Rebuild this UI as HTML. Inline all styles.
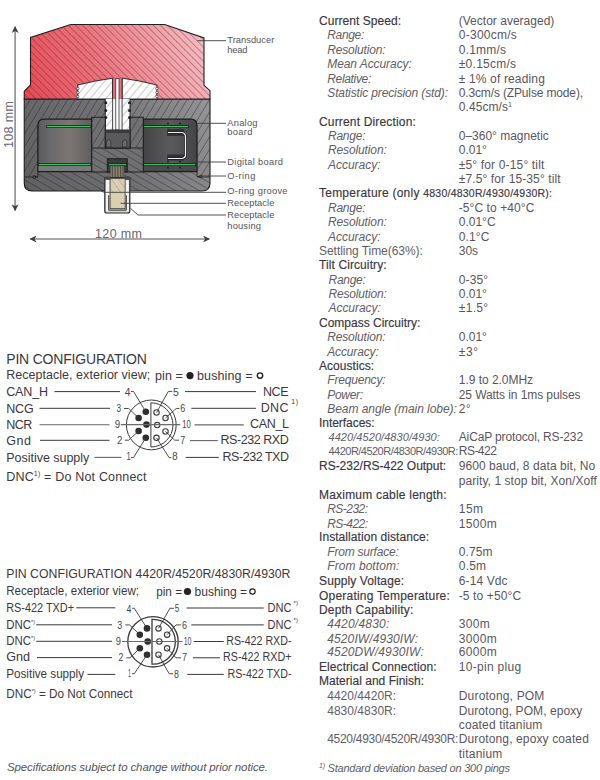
<!DOCTYPE html>
<html><head><meta charset="utf-8"><title>Specifications</title>
<style>
html,body{margin:0;padding:0;background:#fff;}
body{width:600px;height:780px;overflow:hidden;}
svg{display:block;font-family:"Liberation Sans", sans-serif;}
.hd{stroke:#3b3640;stroke-width:0.16px;paint-order:stroke;}
</style></head>
<body>
<svg width="600" height="780" viewBox="0 0 600 780">
<rect width="600" height="780" fill="#fff"/>
<defs>
<linearGradient id="gRed" x1="24" y1="99" x2="210" y2="24" gradientUnits="userSpaceOnUse">
 <stop offset="0" stop-color="#e54854"/>
 <stop offset="0.4" stop-color="#ec727c"/>
 <stop offset="1" stop-color="#f6c4ca"/>
</linearGradient>
<pattern id="hRed" width="5" height="5" patternUnits="userSpaceOnUse" patternTransform="rotate(-45)">
 <rect x="0" y="0" width="0.55" height="5" fill="#4a1a22" fill-opacity="0.62"/>
</pattern>
<pattern id="hBody" width="6.4" height="6.4" patternUnits="userSpaceOnUse" patternTransform="rotate(31)">
 <rect x="0" y="0" width="0.5" height="6.4" fill="#1a1a1c" fill-opacity="0.7"/>
</pattern>
<pattern id="hLid" width="6" height="6" patternUnits="userSpaceOnUse" patternTransform="rotate(-60)">
 <rect x="0" y="0" width="0.5" height="6" fill="#1a1a1c" fill-opacity="0.7"/>
</pattern>
<pattern id="hWhite" width="6" height="6" patternUnits="userSpaceOnUse" patternTransform="rotate(40)">
 <rect x="0" y="0" width="0.6" height="6" fill="#777" fill-opacity="0.6"/>
</pattern>
<pattern id="hBeige" width="6" height="6" patternUnits="userSpaceOnUse" patternTransform="rotate(-35)">
 <rect x="0" y="0" width="0.6" height="6" fill="#8a8270" fill-opacity="0.6"/>
</pattern>
<linearGradient id="gCav" x1="0" y1="0" x2="1" y2="0">
 <stop offset="0" stop-color="#5a5a5c"/>
 <stop offset="0.25" stop-color="#6a6a6c"/>
 <stop offset="0.6" stop-color="#7c7672"/>
 <stop offset="0.8" stop-color="#6e6a68"/>
 <stop offset="1" stop-color="#5e5e60"/>
</linearGradient>
<linearGradient id="gCavR" x1="0" y1="0" x2="1" y2="0">
 <stop offset="0" stop-color="#444446"/>
 <stop offset="0.5" stop-color="#5a5a5c"/>
 <stop offset="1" stop-color="#444446"/>
</linearGradient>
<linearGradient id="gBody" x1="24" y1="191" x2="210" y2="99" gradientUnits="userSpaceOnUse">
 <stop offset="0" stop-color="#606062"/>
 <stop offset="0.5" stop-color="#717173"/>
 <stop offset="1" stop-color="#959597"/>
</linearGradient>
<marker id="arr" viewBox="0 0 10 10" refX="9" refY="5" markerWidth="7" markerHeight="7" orient="auto-start-reverse" markerUnits="userSpaceOnUse">
 <path d="M0,0 L10,5 L0,10 L3,5 Z" fill="#3e3e3e"/>
</marker>
</defs>
<path d="M24.25,99 L210,99 L210,183 Q210,191 202,191 L32,191 Q24.25,191 24.25,183 Z" fill="url(#gBody)"/>
<path d="M24.25,99 L210,99 L210,183 Q210,191 202,191 L32,191 Q24.25,191 24.25,183 Z" fill="url(#hBody)"/>
<path d="M24.25,177 L37.9,177 L37.9,172 L197,172 L197,177 L210,177 L210,183 Q210,191 202,191 L32,191 Q24.25,191 24.25,183 Z" fill="url(#gBody)"/>
<path d="M24.25,177 L37.9,177 L37.9,172 L197,172 L197,177 L210,177 L210,183 Q210,191 202,191 L32,191 Q24.25,191 24.25,183 Z" fill="url(#hLid)"/>
<path d="M24.25,177 L37.9,177 M197,177 L210,177" stroke="#1e1e20" stroke-width="0.8"/>
<path d="M24.25,99 L210,99 L210,183 Q210,191 202,191 L32,191 Q24.25,191 24.25,183 Z" fill="none" stroke="#1e1e20" stroke-width="1.1"/>
<path d="M70.75,24.5 L164.7,24.5 L204,38 L204,85.3 L210,90.7 L210,99 L24.25,99 L24.25,91.25 L30.5,85 L30.5,37.5 Z" fill="url(#gRed)"/>
<path d="M70.75,24.5 L164.7,24.5 L204,38 L204,85.3 L210,90.7 L210,99 L24.25,99 L24.25,91.25 L30.5,85 L30.5,37.5 Z" fill="url(#hRed)"/>
<path d="M70.75,24.5 L164.7,24.5 L204,38 L204,85.3 L210,90.7 L210,99 L24.25,99 L24.25,91.25 L30.5,85 L30.5,37.5 Z" fill="none" stroke="#1e1e20" stroke-width="1.1"/>
<path d="M77.8,99 L77.8,85 Q95,80.5 112.6,78.2 L112.6,99 Z" fill="#fbfbfb"/>
<path d="M77.8,99 L77.8,85 Q95,80.5 112.6,78.2 L112.6,99 Z" fill="url(#hWhite)"/>
<path d="M77.8,99 L77.8,85 Q95,80.5 112.6,78.2 L112.6,99 Z" fill="none" stroke="#1e1e20" stroke-width="0.9"/>
<path d="M122.1,99 L122.1,78.2 Q140,80.5 156.9,85 L156.9,99 Z" fill="#fbfbfb"/>
<path d="M122.1,99 L122.1,78.2 Q140,80.5 156.9,85 L156.9,99 Z" fill="url(#hWhite)"/>
<path d="M122.1,99 L122.1,78.2 Q140,80.5 156.9,85 L156.9,99 Z" fill="none" stroke="#1e1e20" stroke-width="0.9"/>
<circle cx="77.8" cy="88.5" r="1.2" fill="#fff" stroke="#1e1e20" stroke-width="0.6"/>
<circle cx="156.9" cy="88.5" r="1.2" fill="#fff" stroke="#1e1e20" stroke-width="0.6"/>
<circle cx="77.8" cy="92.5" r="1.2" fill="#fff" stroke="#1e1e20" stroke-width="0.6"/>
<circle cx="156.9" cy="92.5" r="1.2" fill="#fff" stroke="#1e1e20" stroke-width="0.6"/>
<circle cx="77.8" cy="96.5" r="1.2" fill="#fff" stroke="#1e1e20" stroke-width="0.6"/>
<circle cx="156.9" cy="96.5" r="1.2" fill="#fff" stroke="#1e1e20" stroke-width="0.6"/>
<rect x="105.3" y="99" width="24.7" height="31" fill="#fbfbfb"/>
<rect x="105.3" y="99" width="24.7" height="31" fill="url(#hWhite)"/>
<path d="M105.3,99 L105.3,130 M130,99 L130,130" stroke="#1e1e20" stroke-width="0.9"/>
<circle cx="105.8" cy="102.7" r="1.5" fill="#222"/>
<circle cx="129.5" cy="102.7" r="1.5" fill="#222"/>
<circle cx="105.8" cy="110.5" r="1.5" fill="#222"/>
<circle cx="129.5" cy="110.5" r="1.5" fill="#222"/>
<circle cx="105.8" cy="117.5" r="1.5" fill="#222"/>
<circle cx="129.5" cy="117.5" r="1.5" fill="#222"/>
<rect x="112.6" y="78.2" width="9.5" height="20.8" fill="#e9707a"/>
<rect x="112.6" y="99" width="9.5" height="31" fill="#f4f4f4"/>
<path d="M112.6,78.2 L112.6,130 M122.1,78.2 L122.1,130" stroke="#1e1e20" stroke-width="0.8"/>
<rect x="115.8" y="78.5" width="3.2" height="51.5" fill="#fff" stroke="#1e1e20" stroke-width="0.7"/>
<path d="M37.9,171.5 L37.9,125.5 Q37.9,119.2 44.2,119.2 L91.7,119.2 L91.7,171.5 Z" fill="url(#gCav)" stroke="#1e1e20" stroke-width="1.3"/>
<path d="M143.3,119.2 L190.7,119.2 Q197,119.2 197,125.5 L197,171.5 L143.3,171.5 Z" fill="url(#gCavR)" stroke="#1e1e20" stroke-width="1.3"/>
<rect x="38.6" y="166.2" width="52.4" height="4.7" fill="#7a7a7c"/>
<rect x="144" y="166.2" width="52.3" height="4.7" fill="#4a4a4c"/>
<path d="M91.7,117.3 L105.3,117.3 L105.3,148 L130,148 L130,117.3 L143.3,117.3 L143.3,172 L91.7,172 Z" fill="#707072"/>
<path d="M91.7,117.3 L105.3,117.3 L105.3,148 L130,148 L130,117.3 L143.3,117.3 L143.3,172 L91.7,172 Z" fill="url(#hBody)"/>
<rect x="91.7" y="148" width="51.6" height="24" fill="#707072"/>
<rect x="91.7" y="148" width="51.6" height="24" fill="url(#hLid)"/>
<path d="M91.7,148 L143.3,148" stroke="#1e1e20" stroke-width="0.9"/>
<path d="M91.7,117.3 L105.3,117.3 L105.3,148 L130,148 L130,117.3 L143.3,117.3 L143.3,172 L91.7,172 Z" fill="none" stroke="#1e1e20" stroke-width="1.1"/>
<rect x="105.3" y="130" width="24.7" height="18" fill="#5a5a5c" stroke="#1e1e20" stroke-width="0.9"/>
<rect x="105.3" y="130" width="24.7" height="3" fill="#3a3a3c"/>
<path d="M106.5,147 L106.5,142 Q108.7,137 110.9,142 L110.9,147 Z" fill="#6a6a6c" stroke="#222" stroke-width="0.6"/>
<path d="M122.5,147 L122.5,142 Q124.7,137 126.9,142 L126.9,147 Z" fill="#6a6a6c" stroke="#222" stroke-width="0.6"/>
<rect x="107.3" y="158.7" width="20" height="13.3" fill="#3a3a3c" stroke="#1e1e20" stroke-width="0.9"/>
<rect x="110.5" y="166" width="13.5" height="12" fill="#8a8270"/>
<line x1="112.3" y1="166" x2="112.3" y2="178" stroke="#3a3630" stroke-width="0.8"/>
<line x1="115.1" y1="166" x2="115.1" y2="178" stroke="#3a3630" stroke-width="0.8"/>
<line x1="117.9" y1="166" x2="117.9" y2="178" stroke="#3a3630" stroke-width="0.8"/>
<line x1="120.7" y1="166" x2="120.7" y2="178" stroke="#3a3630" stroke-width="0.8"/>
<line x1="123.0" y1="166" x2="123.0" y2="178" stroke="#3a3630" stroke-width="0.8"/>
<line x1="46.3" y1="126.6" x2="91.3" y2="126.6" stroke="#10261a" stroke-width="2.8"/>
<line x1="47.099999999999994" y1="126.6" x2="90.5" y2="126.6" stroke="#3fbf62" stroke-width="1.2"/>
<line x1="143.3" y1="126.6" x2="189" y2="126.6" stroke="#10261a" stroke-width="2.8"/>
<line x1="144.10000000000002" y1="126.6" x2="188.2" y2="126.6" stroke="#3fbf62" stroke-width="1.2"/>
<line x1="38.2" y1="164.7" x2="91.3" y2="164.7" stroke="#10261a" stroke-width="2.8"/>
<line x1="39.0" y1="164.7" x2="90.5" y2="164.7" stroke="#3fbf62" stroke-width="1.2"/>
<line x1="143.3" y1="164.7" x2="196" y2="164.7" stroke="#10261a" stroke-width="2.8"/>
<line x1="144.10000000000002" y1="164.7" x2="195.2" y2="164.7" stroke="#3fbf62" stroke-width="1.2"/>
<line x1="108" y1="164.7" x2="127" y2="164.7" stroke="#10261a" stroke-width="2.8"/>
<line x1="108.8" y1="164.7" x2="126.2" y2="164.7" stroke="#3fbf62" stroke-width="1.2"/>
<circle cx="168" cy="123.5" r="0.9" fill="#1a1a1a"/>
<circle cx="168" cy="129.5" r="0.9" fill="#1a1a1a"/>
<circle cx="168" cy="161.5" r="0.9" fill="#1a1a1a"/>
<circle cx="168" cy="167.5" r="0.9" fill="#1a1a1a"/>
<circle cx="180" cy="123.5" r="0.9" fill="#1a1a1a"/>
<circle cx="180" cy="129.5" r="0.9" fill="#1a1a1a"/>
<circle cx="180" cy="161.5" r="0.9" fill="#1a1a1a"/>
<circle cx="180" cy="167.5" r="0.9" fill="#1a1a1a"/>
<rect x="167" y="129" width="17" height="7" fill="#333"/>
<rect x="167" y="154.5" width="17" height="6" fill="#333"/>
<path d="M168,132.5 L181,132.5 Q185.5,132.5 185.5,137 L185.5,154.5 Q185.5,158.5 181,158.5 L168,158.5" fill="none" stroke="#222" stroke-width="2.6"/>
<path d="M168,132.5 L181,132.5 Q185.5,132.5 185.5,137 L185.5,154.5 Q185.5,158.5 181,158.5 L168,158.5" fill="none" stroke="#f0f0f0" stroke-width="1.2"/>
<path d="M37.9,171.5 L37.9,177 L33,177" fill="none" stroke="#1e1e20" stroke-width="0.8"/>
<circle cx="34.2" cy="177" r="1.4" fill="#555" stroke="#111" stroke-width="0.6"/>
<path d="M197,171.5 L197,176.5 L202,176.5" fill="none" stroke="#1e1e20" stroke-width="0.8"/>
<circle cx="200.8" cy="176.5" r="1.4" fill="#555" stroke="#111" stroke-width="0.6"/>
<path d="M104.8,177.7 L129.8,177.7 L129.8,211 Q129.8,213 127.8,213 L106.8,213 Q104.8,213 104.8,211 Z" fill="#d2d2d4" stroke="#2a2a2a" stroke-width="1.2"/>
<rect x="106" y="180" width="3" height="31.5" fill="#f2f2f2"/>
<rect x="126" y="180" width="2.8" height="31.5" fill="#f2f2f2"/>
<rect x="108.6" y="195.3" width="17.8" height="15" fill="#b4b4b6"/>
<path d="M108.6,195.3 L108.6,210.2 L126.4,210.2 L126.4,195.3" fill="none" stroke="#3a3a3a" stroke-width="0.9"/>
<rect x="105.2" y="176.3" width="5" height="3.6" fill="#4a4a4c"/>
<rect x="124.6" y="176.3" width="5" height="3.6" fill="#4a4a4c"/>
<rect x="110.1" y="178.7" width="15" height="30" fill="#d9d0b2" stroke="#2e2e2e" stroke-width="0.7"/>
<rect x="110.5" y="179" width="14.2" height="14.5" fill="url(#hBeige)"/>
<line x1="15.1" y1="26.7" x2="15.1" y2="210.5" stroke="#8c8c8c" stroke-width="1.6" marker-start="url(#arr)" marker-end="url(#arr)"/>
<line x1="30.3" y1="239" x2="209.3" y2="239" stroke="#8c8c8c" stroke-width="1.6" marker-start="url(#arr)" marker-end="url(#arr)"/>
<text x="0" y="0" font-size="12.5" fill="#6a6570" transform="translate(13,148) rotate(-90)" textLength="47" lengthAdjust="spacing">108 mm</text>
<text x="95" y="237.6" font-size="12.5" fill="#6a6570" textLength="47" lengthAdjust="spacing">120 mm</text>
<text x="227.3" y="42.7" font-size="9.3" fill="#565260" textLength="47.00" lengthAdjust="spacing">Transducer</text>
<text x="227.3" y="52.7" font-size="9.3" fill="#565260" textLength="20.20" lengthAdjust="spacing">head</text>
<text x="227.3" y="126" font-size="9.3" fill="#565260" textLength="30.20" lengthAdjust="spacing">Analog</text>
<text x="227.3" y="135.3" font-size="9.3" fill="#565260" textLength="25.20" lengthAdjust="spacing">board</text>
<text x="227.3" y="164.7" font-size="9.3" fill="#565260" textLength="55.70" lengthAdjust="spacing">Digital board</text>
<text x="227.3" y="178.7" font-size="9.3" fill="#565260" textLength="28.00" lengthAdjust="spacing">O-ring</text>
<text x="227.3" y="194.3" font-size="9.3" fill="#565260" textLength="60.20" lengthAdjust="spacing">O-ring groove</text>
<text x="227.3" y="205.7" font-size="9.3" fill="#565260" textLength="47.00" lengthAdjust="spacing">Receptacle</text>
<text x="227.3" y="218.3" font-size="9.3" fill="#565260" textLength="47.00" lengthAdjust="spacing">Receptacle</text>
<text x="227.3" y="229" font-size="9.3" fill="#565260" textLength="33.70" lengthAdjust="spacing">housing</text>
<polyline points="197.3,40.7 226,40.7" fill="none" stroke="#3e3e3e" stroke-width="0.9"/>
<polyline points="197,123.3 226,123.3" fill="none" stroke="#3e3e3e" stroke-width="0.9"/>
<polyline points="192,162 226,162" fill="none" stroke="#3e3e3e" stroke-width="0.9"/>
<polyline points="200,176 226,176" fill="none" stroke="#3e3e3e" stroke-width="0.9"/>
<polyline points="100.4,190.5 104,192.3 226,192.3" fill="none" stroke="#3e3e3e" stroke-width="0.9"/>
<polyline points="120.6,203.3 226,203.3" fill="none" stroke="#3e3e3e" stroke-width="0.9"/>
<polyline points="130.4,208.2 137.9,215 226,215" fill="none" stroke="#3e3e3e" stroke-width="0.9"/>
<text x="6.25" y="364.25" font-size="14" fill="#3c3740" textLength="140.55" lengthAdjust="spacing">PIN CONFIGURATION</text>
<text x="6.25" y="378.75" font-size="12.5" fill="#3c3740" textLength="143.95" lengthAdjust="spacing">Receptacle, exterior view;</text>
<text x="155" y="380" font-size="12.5" fill="#3c3740" textLength="27.80" lengthAdjust="spacing">pin =</text>
<circle cx="190" cy="375.6" r="3.6" fill="#222"/>
<text x="197" y="380" font-size="12.5" fill="#3c3740" textLength="55.50" lengthAdjust="spacing">bushing =</text>
<circle cx="260" cy="375.6" r="2.7" fill="none" stroke="#222" stroke-width="1.4"/>
<text x="6.25" y="396.25" font-size="12.5" fill="#3c3740" textLength="41.75" lengthAdjust="spacing">CAN_H</text>
<text x="6.25" y="412.5" font-size="12.5" fill="#3c3740" textLength="27.45" lengthAdjust="spacing">NCG</text>
<text x="6.25" y="428.75" font-size="12.5" fill="#3c3740" textLength="26.05" lengthAdjust="spacing">NCR</text>
<text x="6.25" y="444.5" font-size="12.5" fill="#3c3740" textLength="24.75" lengthAdjust="spacing">Gnd</text>
<text x="6.25" y="462" font-size="12.5" fill="#3c3740" textLength="83.00" lengthAdjust="spacing">Positive supply</text>
<text x="6.25" y="481.25" font-size="12.5" fill="#3c3740" textLength="140.25" lengthAdjust="spacing">DNC<tspan font-size="7" dy="-5">1)</tspan><tspan dy="5"> = Do Not Connect</tspan></text>
<line x1="54.5" y1="391.6" x2="120" y2="391.6" stroke="#3a3a3a" stroke-width="1.0"/>
<line x1="39.5" y1="408.3" x2="110" y2="408.3" stroke="#3a3a3a" stroke-width="1.0"/>
<line x1="39.5" y1="424.8" x2="109.5" y2="424.8" stroke="#666" stroke-width="1.1"/>
<line x1="40" y1="440.3" x2="109.5" y2="440.3" stroke="#3a3a3a" stroke-width="1.0"/>
<line x1="94.5" y1="457.4" x2="121.6" y2="457.4" stroke="#666" stroke-width="1.1"/>
<text x="263" y="395.5" font-size="12.5" fill="#3c3740" textLength="25.50" lengthAdjust="spacing">NCE</text>
<text x="220.5" y="443.75" font-size="12.5" fill="#3c3740" textLength="68.25" lengthAdjust="spacing">RS-232 RXD</text>
<text x="222.5" y="460.75" font-size="12.5" fill="#3c3740" textLength="66.50" lengthAdjust="spacing">RS-232 TXD</text>
<text x="250" y="428" font-size="12.5" fill="#3c3740" textLength="39.00" lengthAdjust="spacing">CAN_L</text>
<text x="260.75" y="412" font-size="12.5" fill="#3c3740" textLength="27.75" lengthAdjust="spacing">DNC</text>
<text x="291.25" y="404" font-size="7" fill="#3c3740" textLength="6.75" lengthAdjust="spacing">1)</text>
<line x1="185" y1="391.6" x2="256" y2="391.6" stroke="#3a3a3a" stroke-width="1.0"/>
<line x1="191.3" y1="408.3" x2="256" y2="408.3" stroke="#3a3a3a" stroke-width="1.0"/>
<line x1="194.5" y1="424.8" x2="243.75" y2="424.8" stroke="#6a6a6a" stroke-width="1.2"/>
<line x1="190" y1="440.6" x2="217.8" y2="440.6" stroke="#666" stroke-width="1.1"/>
<line x1="185.7" y1="457.4" x2="218.75" y2="457.4" stroke="#3a3a3a" stroke-width="1.0"/>
<circle cx="151.3" cy="424.9" r="24.9" fill="none" stroke="#3a3a3a" stroke-width="1.0"/>
<path d="M150.9,402.80 A22.099999999999998,22.099999999999998 0 1 1 150.9,447.00 Z" fill="none" stroke="#3a3a3a" stroke-width="1.0"/>
<circle cx="145.8" cy="411.7" r="3.3" fill="#2e2e30"/>
<circle cx="138.6" cy="418" r="3.3" fill="#2e2e30"/>
<circle cx="146.5" cy="424.6" r="3.3" fill="#2e2e30"/>
<circle cx="138.6" cy="431" r="3.3" fill="#2e2e30"/>
<circle cx="145.8" cy="437.8" r="3.3" fill="#2e2e30"/>
<circle cx="156.5" cy="412.5" r="2.7" fill="#fff" stroke="#3a3a3a" stroke-width="1.1"/>
<circle cx="165.5" cy="418" r="2.7" fill="#fff" stroke="#3a3a3a" stroke-width="1.1"/>
<circle cx="157.2" cy="425.1" r="2.7" fill="#fff" stroke="#3a3a3a" stroke-width="1.1"/>
<circle cx="165.5" cy="431.5" r="2.7" fill="#fff" stroke="#3a3a3a" stroke-width="1.1"/>
<circle cx="156.5" cy="437.8" r="2.7" fill="#fff" stroke="#3a3a3a" stroke-width="1.1"/>
<text x="124.8" y="395.8" font-size="10" fill="#4a4550" textLength="5.70" lengthAdjust="spacingAndGlyphs">4</text>
<text x="116.4" y="411.7" font-size="10" fill="#4a4550" textLength="4.60" lengthAdjust="spacingAndGlyphs">3</text>
<text x="114.8" y="427.5" font-size="10" fill="#4a4550" textLength="5.40" lengthAdjust="spacingAndGlyphs">9</text>
<text x="116.9" y="443.6" font-size="10" fill="#4a4550" textLength="5.40" lengthAdjust="spacingAndGlyphs">2</text>
<text x="126.4" y="460.4" font-size="10" fill="#4a4550" textLength="4.10" lengthAdjust="spacingAndGlyphs">1</text>
<text x="173" y="395.8" font-size="10" fill="#4a4550" textLength="5.80" lengthAdjust="spacingAndGlyphs">5</text>
<text x="180.2" y="411.7" font-size="10" fill="#4a4550" textLength="5.00" lengthAdjust="spacingAndGlyphs">6</text>
<text x="182.3" y="427.5" font-size="10" fill="#4a4550" textLength="8.40" lengthAdjust="spacingAndGlyphs">10</text>
<text x="180.2" y="443.7" font-size="10" fill="#4a4550" textLength="5.00" lengthAdjust="spacingAndGlyphs">7</text>
<text x="172.3" y="460" font-size="10" fill="#4a4550" textLength="5.40" lengthAdjust="spacingAndGlyphs">8</text>
<polyline points="130.8,391.4 133.5,391.4 145.8,411.7" fill="none" stroke="#3a3a3a" stroke-width="0.9" stroke-linejoin="round"/>
<polyline points="124,408.5 128.7,408.5 138.6,418" fill="none" stroke="#3a3a3a" stroke-width="0.9" stroke-linejoin="round"/>
<polyline points="120.8,424.6 180.2,424.6" fill="none" stroke="#6a6a6a" stroke-width="1.15" stroke-linejoin="round"/>
<polyline points="124.8,440.2 128.7,440.2 138.6,431" fill="none" stroke="#3a3a3a" stroke-width="0.9" stroke-linejoin="round"/>
<polyline points="131.1,457.6 133.5,457.6 145.8,437.8" fill="none" stroke="#3a3a3a" stroke-width="0.9" stroke-linejoin="round"/>
<polyline points="156.5,412.5 168.3,391.4 172.3,391.4" fill="none" stroke="#3a3a3a" stroke-width="0.9" stroke-linejoin="round"/>
<polyline points="165.5,418 176.2,408.5 179.4,408.5" fill="none" stroke="#3a3a3a" stroke-width="0.9" stroke-linejoin="round"/>
<polyline points="165.5,431.5 174.7,440.2 179,440.2" fill="none" stroke="#3a3a3a" stroke-width="0.9" stroke-linejoin="round"/>
<polyline points="156.5,437.8 169.1,457.6 171.5,457.6" fill="none" stroke="#3a3a3a" stroke-width="0.9" stroke-linejoin="round"/>
<text x="6.25" y="578" font-size="13" fill="#3c3740" textLength="284.25" lengthAdjust="spacingAndGlyphs">PIN CONFIGURATION 4420R/4520R/4830R/4930R</text>
<text x="6.25" y="594.5" font-size="12.5" fill="#3c3740" textLength="132.75" lengthAdjust="spacingAndGlyphs">Receptacle, exterior view;</text>
<text x="156.25" y="595.5" font-size="12.5" fill="#3c3740" textLength="25.75" lengthAdjust="spacingAndGlyphs">pin =</text>
<circle cx="187.5" cy="591.5" r="3.6" fill="#222"/>
<text x="194.5" y="595.5" font-size="12.5" fill="#3c3740" textLength="52.50" lengthAdjust="spacingAndGlyphs">bushing =</text>
<circle cx="252.5" cy="591.5" r="2.7" fill="none" stroke="#222" stroke-width="1.2"/>
<text x="6.25" y="612.0" font-size="12.5" fill="#3c3740" textLength="67.75" lengthAdjust="spacingAndGlyphs">RS-422 TXD+</text>
<text x="6.25" y="628.8" font-size="12.5" fill="#3c3740" textLength="28.75" lengthAdjust="spacingAndGlyphs">DNC<tspan font-size="6" dy="-5">*)</tspan></text>
<text x="6.25" y="644.6" font-size="12.5" fill="#3c3740" textLength="28.75" lengthAdjust="spacingAndGlyphs">DNC<tspan font-size="6" dy="-5">*)</tspan></text>
<text x="6.25" y="660.7" font-size="12.5" fill="#3c3740" textLength="23.75" lengthAdjust="spacingAndGlyphs">Gnd</text>
<text x="6.25" y="678.0" font-size="12.5" fill="#3c3740" textLength="77.75" lengthAdjust="spacingAndGlyphs">Positive supply</text>
<text x="6.25" y="697.5" font-size="12.5" fill="#3c3740" textLength="126.25" lengthAdjust="spacingAndGlyphs">DNC<tspan font-size="6" dy="-5">*)</tspan><tspan dy="5"> = Do Not Connect</tspan></text>
<line x1="76.25" y1="607.8" x2="115.3" y2="607.8" stroke="#3a3a3a" stroke-width="1.0"/>
<line x1="36.25" y1="624.8" x2="112.1" y2="624.8" stroke="#3a3a3a" stroke-width="1.0"/>
<line x1="36.25" y1="641.3" x2="112" y2="641.3" stroke="#3a3a3a" stroke-width="1.0"/>
<line x1="37" y1="657.6" x2="112" y2="657.6" stroke="#3a3a3a" stroke-width="1.0"/>
<line x1="87.5" y1="674.4" x2="115.3" y2="674.4" stroke="#3a3a3a" stroke-width="1.0"/>
<text x="267.5" y="612.1" font-size="12.5" fill="#3c3740" textLength="24.00" lengthAdjust="spacingAndGlyphs">DNC</text>
<text x="293.5" y="604.8" font-size="6" fill="#3c3740" textLength="4.50" lengthAdjust="spacingAndGlyphs">*)</text>
<text x="267.5" y="628.8" font-size="12.5" fill="#3c3740" textLength="24.00" lengthAdjust="spacingAndGlyphs">DNC</text>
<text x="293.5" y="621.8" font-size="6" fill="#3c3740" textLength="4.50" lengthAdjust="spacingAndGlyphs">*)</text>
<text x="226.25" y="644.6" font-size="12.5" fill="#3c3740" textLength="65.25" lengthAdjust="spacingAndGlyphs">RS-422 RXD-</text>
<text x="223" y="660.8" font-size="12.5" fill="#3c3740" textLength="68.50" lengthAdjust="spacingAndGlyphs">RS-422 RXD+</text>
<text x="227.5" y="677.5" font-size="12.5" fill="#3c3740" textLength="64.00" lengthAdjust="spacingAndGlyphs">RS-422 TXD-</text>
<line x1="186.5" y1="608" x2="263.75" y2="608" stroke="#3a3a3a" stroke-width="1.0"/>
<line x1="191.3" y1="624.9" x2="263.75" y2="624.9" stroke="#3a3a3a" stroke-width="1.0"/>
<line x1="193.7" y1="641.5" x2="223.75" y2="641.5" stroke="#3a3a3a" stroke-width="1.0"/>
<line x1="192.9" y1="657.8" x2="220" y2="657.8" stroke="#3a3a3a" stroke-width="1.0"/>
<line x1="187.3" y1="674.4" x2="223.75" y2="674.4" stroke="#3a3a3a" stroke-width="1.0"/>
<circle cx="153" cy="641.8" r="25.2" fill="none" stroke="#3a3a3a" stroke-width="1.3"/>
<path d="M152,619.42 A22.4,22.4 0 1 1 152,664.18 Z" fill="none" stroke="#3a3a3a" stroke-width="1.3"/>
<circle cx="147" cy="628.4" r="3.3" fill="#2e2e30"/>
<circle cx="139.8" cy="634.7" r="3.3" fill="#2e2e30"/>
<circle cx="147.7" cy="641.5" r="3.3" fill="#2e2e30"/>
<circle cx="139.8" cy="648.3" r="3.3" fill="#2e2e30"/>
<circle cx="147" cy="654.7" r="3.3" fill="#2e2e30"/>
<circle cx="158.5" cy="628.4" r="2.7" fill="#fff" stroke="#3a3a3a" stroke-width="1.1"/>
<circle cx="167.1" cy="634.7" r="2.7" fill="#fff" stroke="#3a3a3a" stroke-width="1.1"/>
<circle cx="159.3" cy="641.5" r="2.7" fill="#fff" stroke="#3a3a3a" stroke-width="1.1"/>
<circle cx="167.1" cy="648.3" r="2.7" fill="#fff" stroke="#3a3a3a" stroke-width="1.1"/>
<circle cx="158.5" cy="654.7" r="2.7" fill="#fff" stroke="#3a3a3a" stroke-width="1.1"/>
<text x="126.4" y="612.8" font-size="10" fill="#4a4550" textLength="4.90" lengthAdjust="spacingAndGlyphs">4</text>
<text x="117.3" y="629.2" font-size="10" fill="#4a4550" textLength="5.00" lengthAdjust="spacingAndGlyphs">3</text>
<text x="115.8" y="645.4" font-size="10" fill="#4a4550" textLength="5.20" lengthAdjust="spacingAndGlyphs">9</text>
<text x="118.5" y="661.2" font-size="10" fill="#4a4550" textLength="4.90" lengthAdjust="spacingAndGlyphs">2</text>
<text x="128" y="677.2" font-size="10" fill="#4a4550" textLength="3.00" lengthAdjust="spacingAndGlyphs">1</text>
<text x="174.7" y="611.8" font-size="10" fill="#4a4550" textLength="4.60" lengthAdjust="spacingAndGlyphs">5</text>
<text x="182.1" y="629.2" font-size="10" fill="#4a4550" textLength="5.00" lengthAdjust="spacingAndGlyphs">6</text>
<text x="183.7" y="645.4" font-size="10" fill="#4a4550" textLength="7.80" lengthAdjust="spacingAndGlyphs">10</text>
<text x="182.1" y="661.2" font-size="10" fill="#4a4550" textLength="5.00" lengthAdjust="spacingAndGlyphs">7</text>
<text x="173.9" y="678" font-size="10" fill="#4a4550" textLength="4.90" lengthAdjust="spacingAndGlyphs">8</text>
<polyline points="132.2,608.3 134.3,608.3 147,628.4" fill="none" stroke="#3a3a3a" stroke-width="0.9" stroke-linejoin="round"/>
<polyline points="125.3,624.9 129.5,624.9 139.8,634.7" fill="none" stroke="#3a3a3a" stroke-width="0.9" stroke-linejoin="round"/>
<polyline points="122.1,641.5 182.6,641.5" fill="none" stroke="#6a6a6a" stroke-width="1.15" stroke-linejoin="round"/>
<polyline points="126.4,657.8 130,657.8 139.8,648.3" fill="none" stroke="#3a3a3a" stroke-width="0.9" stroke-linejoin="round"/>
<polyline points="131.9,673.7 134.3,673.7 147,654.7" fill="none" stroke="#3a3a3a" stroke-width="0.9" stroke-linejoin="round"/>
<polyline points="158.5,628.4 169.9,608.3 173.9,608.3" fill="none" stroke="#3a3a3a" stroke-width="0.9" stroke-linejoin="round"/>
<polyline points="167.1,634.7 176,624.9 181,624.9" fill="none" stroke="#3a3a3a" stroke-width="0.9" stroke-linejoin="round"/>
<polyline points="167.1,648.3 176,657.8 181,657.8" fill="none" stroke="#3a3a3a" stroke-width="0.9" stroke-linejoin="round"/>
<polyline points="158.5,654.7 169.1,673.7 173.1,673.7" fill="none" stroke="#3a3a3a" stroke-width="0.9" stroke-linejoin="round"/>
<text x="7" y="770.5" font-size="11.5" fill="#58535c" font-style="italic" textLength="261" lengthAdjust="spacing">Specifications subject to change without prior notice.</text>
<text x="319" y="25" font-size="12" fill="#3b3640" class="hd" textLength="82.10" lengthAdjust="spacing">Current Speed:</text>
<text x="458.75" y="25" font-size="12" fill="#5a555e" textLength="95.60" lengthAdjust="spacing">(Vector averaged)</text>
<text x="327.25" y="39.25" font-size="12" fill="#625d66" font-style="italic" textLength="37.05" lengthAdjust="spacing">Range:</text>
<text x="458.75" y="39.25" font-size="12" fill="#5a555e" textLength="58.10" lengthAdjust="spacing">0-300cm/s</text>
<text x="327.25" y="53.75" font-size="12" fill="#625d66" font-style="italic" textLength="58.30" lengthAdjust="spacing">Resolution:</text>
<text x="458.75" y="53.75" font-size="12" fill="#5a555e" textLength="47.35" lengthAdjust="spacing">0.1mm/s</text>
<text x="327.25" y="68.25" font-size="12" fill="#625d66" font-style="italic" textLength="84.55" lengthAdjust="spacing">Mean Accuracy:</text>
<text x="458.75" y="68.25" font-size="12" fill="#5a555e" textLength="57.35" lengthAdjust="spacing">±0.15cm/s</text>
<text x="327.25" y="82.75" font-size="12" fill="#625d66" font-style="italic" textLength="44.05" lengthAdjust="spacing">Relative:</text>
<text x="458.75" y="82.75" font-size="12" fill="#5a555e" textLength="86.10" lengthAdjust="spacing">± 1% of reading</text>
<text x="327.25" y="97" font-size="12" fill="#625d66" font-style="italic" textLength="120.80" lengthAdjust="spacing">Statistic precision (std):</text>
<text x="458.75" y="97" font-size="12" fill="#5a555e" textLength="124.35" lengthAdjust="spacing">0.3cm/s (ZPulse mode),</text>
<text x="458.75" y="110.75" font-size="12" fill="#5a555e" textLength="53.10" lengthAdjust="spacing">0.45cm/s<tspan font-size="7" dy="-4">1</tspan></text>
<text x="319" y="125.75" font-size="12" fill="#3b3640" class="hd" textLength="96.85" lengthAdjust="spacing">Current Direction:</text>
<text x="328" y="139.5" font-size="12" fill="#625d66" font-style="italic" textLength="37.55" lengthAdjust="spacing">Range:</text>
<text x="458.75" y="139.5" font-size="12" fill="#5a555e" textLength="90.10" lengthAdjust="spacing">0–360° magnetic</text>
<text x="328" y="153.75" font-size="12" fill="#625d66" font-style="italic" textLength="58.80" lengthAdjust="spacing">Resolution:</text>
<text x="458.75" y="153.75" font-size="12" fill="#5a555e" textLength="28.10" lengthAdjust="spacing">0.01°</text>
<text x="328" y="168.75" font-size="12" fill="#625d66" font-style="italic" textLength="52.55" lengthAdjust="spacing">Accuracy:</text>
<text x="458.75" y="168.75" font-size="12" fill="#5a555e" textLength="85.60" lengthAdjust="spacing">±5° for 0-15° tilt</text>
<text x="458.75" y="182.5" font-size="12" fill="#5a555e" textLength="101.85" lengthAdjust="spacing">±7.5° for 15-35° tilt</text>
<text x="319" y="197" font-size="12" fill="#3b3640" class="hd" textLength="233.00" lengthAdjust="spacing">Temperature (only <tspan font-size="10.5">4830/4830R/4930/4930R):</tspan></text>
<text x="328" y="211.75" font-size="12" fill="#625d66" font-style="italic" textLength="37.55" lengthAdjust="spacing">Range:</text>
<text x="458.75" y="211.75" font-size="12" fill="#5a555e" textLength="75.60" lengthAdjust="spacing">-5°C to +40°C</text>
<text x="328" y="225.5" font-size="12" fill="#625d66" font-style="italic" textLength="58.80" lengthAdjust="spacing">Resolution:</text>
<text x="458.75" y="225.5" font-size="12" fill="#5a555e" textLength="36.85" lengthAdjust="spacing">0.01°C</text>
<text x="328" y="240.5" font-size="12" fill="#625d66" font-style="italic" textLength="52.55" lengthAdjust="spacing">Accuracy:</text>
<text x="458.75" y="240.5" font-size="12" fill="#5a555e" textLength="30.60" lengthAdjust="spacing">0.1°C</text>
<text x="319" y="254.5" font-size="12" fill="#625d66" textLength="103.85" lengthAdjust="spacing">Settling Time(63%):</text>
<text x="458.75" y="254.5" font-size="12" fill="#5a555e" textLength="19.35" lengthAdjust="spacing">30s</text>
<text x="319" y="268.5" font-size="12" fill="#3b3640" class="hd" textLength="67.60" lengthAdjust="spacing">Tilt Circuitry:</text>
<text x="328.5" y="283.75" font-size="12" fill="#625d66" font-style="italic" textLength="37.30" lengthAdjust="spacing">Range:</text>
<text x="458.75" y="283.75" font-size="12" fill="#5a555e" textLength="29.35" lengthAdjust="spacing">0-35°</text>
<text x="328.5" y="297.5" font-size="12" fill="#625d66" font-style="italic" textLength="58.30" lengthAdjust="spacing">Resolution:</text>
<text x="458.75" y="297.5" font-size="12" fill="#5a555e" textLength="28.10" lengthAdjust="spacing">0.01°</text>
<text x="328.5" y="312" font-size="12" fill="#625d66" font-style="italic" textLength="52.30" lengthAdjust="spacing">Accuracy:</text>
<text x="458.75" y="312" font-size="12" fill="#5a555e" textLength="29.35" lengthAdjust="spacing">±1.5°</text>
<text x="319" y="327" font-size="12" fill="#3b3640" class="hd" textLength="101.35" lengthAdjust="spacing">Compass Circuitry:</text>
<text x="327.25" y="340.5" font-size="12" fill="#625d66" font-style="italic" textLength="58.30" lengthAdjust="spacing">Resolution:</text>
<text x="458.75" y="340.5" font-size="12" fill="#5a555e" textLength="28.10" lengthAdjust="spacing">0.01°</text>
<text x="327.25" y="355.75" font-size="12" fill="#625d66" font-style="italic" textLength="51.55" lengthAdjust="spacing">Accuracy:</text>
<text x="458.75" y="355.75" font-size="12" fill="#5a555e" textLength="19.35" lengthAdjust="spacing">±3°</text>
<text x="319" y="370" font-size="12" fill="#3b3640" class="hd" textLength="55.10" lengthAdjust="spacing">Acoustics:</text>
<text x="327.25" y="383.75" font-size="12" fill="#625d66" font-style="italic" textLength="58.30" lengthAdjust="spacing">Frequency:</text>
<text x="458.75" y="383.75" font-size="12" fill="#5a555e" textLength="74.35" lengthAdjust="spacing">1.9 to 2.0MHz</text>
<text x="327.25" y="398.75" font-size="12" fill="#625d66" font-style="italic" textLength="35.80" lengthAdjust="spacing">Power:</text>
<text x="458.75" y="398.75" font-size="12" fill="#5a555e" textLength="121.85" lengthAdjust="spacing">25 Watts in 1ms pulses</text>
<text x="327.25" y="413" font-size="12" fill="#625d66" font-style="italic" textLength="129.55" lengthAdjust="spacing">Beam angle (main lobe):</text>
<text x="458.75" y="413" font-size="12" fill="#5a555e" textLength="11.85" lengthAdjust="spacing">2°</text>
<text x="319" y="427" font-size="12" fill="#3b3640" class="hd" textLength="55.60" lengthAdjust="spacing">Interfaces:</text>
<text x="328.5" y="441.25" font-size="11" fill="#625d66" font-style="italic" textLength="111.30" lengthAdjust="spacing">4420/4520/4830/4930:</text>
<text x="458.75" y="441.25" font-size="12" fill="#5a555e" textLength="124.35" lengthAdjust="spacing">AiCaP protocol, RS-232</text>
<text x="328.5" y="455" font-size="11" fill="#625d66" textLength="129.85" lengthAdjust="spacing">4420R/4520R/4830R/4930R:</text>
<text x="458.75" y="455" font-size="12" fill="#5a555e" textLength="38.10" lengthAdjust="spacing">RS-422</text>
<text x="319" y="469.5" font-size="12" fill="#3b3640" class="hd" textLength="127.10" lengthAdjust="spacing">RS-232/RS-422 Output:</text>
<text x="458.75" y="469.5" font-size="12" fill="#5a555e" textLength="136.35" lengthAdjust="spacing">9600 baud, 8 data bit, No</text>
<text x="458.75" y="485" font-size="12" fill="#5a555e" textLength="138.10" lengthAdjust="spacing">parity, 1 stop bit, Xon/Xoff</text>
<text x="319" y="498.75" font-size="12" fill="#3b3640" class="hd" textLength="127.60" lengthAdjust="spacing">Maximum cable length:</text>
<text x="327.25" y="513.25" font-size="12" fill="#625d66" font-style="italic" textLength="40.80" lengthAdjust="spacing">RS-232:</text>
<text x="458.75" y="513.25" font-size="12" fill="#5a555e" textLength="24.35" lengthAdjust="spacing">15m</text>
<text x="327.25" y="527.5" font-size="12" fill="#625d66" font-style="italic" textLength="40.80" lengthAdjust="spacing">RS-422:</text>
<text x="458.75" y="527.5" font-size="12" fill="#5a555e" textLength="38.10" lengthAdjust="spacing">1500m</text>
<text x="319" y="541.25" font-size="12" fill="#3b3640" class="hd" textLength="110.10" lengthAdjust="spacing">Installation distance:</text>
<text x="327.25" y="556.25" font-size="12" fill="#625d66" font-style="italic" textLength="71.55" lengthAdjust="spacing">From surface:</text>
<text x="458.75" y="556.25" font-size="12" fill="#5a555e" textLength="33.85" lengthAdjust="spacing">0.75m</text>
<text x="327.25" y="570" font-size="12" fill="#625d66" font-style="italic" textLength="72.05" lengthAdjust="spacing">From bottom:</text>
<text x="458.75" y="570" font-size="12" fill="#5a555e" textLength="27.35" lengthAdjust="spacing">0.5m</text>
<text x="319" y="584.5" font-size="12" fill="#3b3640" class="hd" textLength="85.10" lengthAdjust="spacing">Supply Voltage:</text>
<text x="458.75" y="584.5" font-size="12" fill="#5a555e" textLength="48.85" lengthAdjust="spacing">6-14 Vdc</text>
<text x="319" y="599.5" font-size="12" fill="#3b3640" class="hd" textLength="130.85" lengthAdjust="spacing">Operating Temperature:</text>
<text x="458.75" y="599.5" font-size="12" fill="#5a555e" textLength="62.35" lengthAdjust="spacing">-5 to +50°C</text>
<text x="319" y="613.75" font-size="12" fill="#3b3640" class="hd" textLength="94.35" lengthAdjust="spacing">Depth Capability:</text>
<text x="327.25" y="627.5" font-size="12" fill="#625d66" font-style="italic" textLength="62.05" lengthAdjust="spacing">4420/4830:</text>
<text x="458.75" y="627.5" font-size="12" fill="#5a555e" textLength="31.10" lengthAdjust="spacing">300m</text>
<text x="327.25" y="642.5" font-size="12" fill="#625d66" font-style="italic" textLength="90.80" lengthAdjust="spacing">4520IW/4930IW:</text>
<text x="458.75" y="642.5" font-size="12" fill="#5a555e" textLength="38.10" lengthAdjust="spacing">3000m</text>
<text x="327.25" y="656.25" font-size="12" fill="#625d66" font-style="italic" textLength="96.55" lengthAdjust="spacing">4520DW/4930IW:</text>
<text x="458.75" y="656.25" font-size="12" fill="#5a555e" textLength="38.10" lengthAdjust="spacing">6000m</text>
<text x="319" y="671.25" font-size="12" fill="#3b3640" class="hd" textLength="117.60" lengthAdjust="spacing">Electrical Connection:</text>
<text x="458.75" y="671.25" font-size="12" fill="#5a555e" textLength="62.35" lengthAdjust="spacing">10-pin plug</text>
<text x="319" y="685" font-size="12" fill="#3b3640" class="hd" textLength="105.10" lengthAdjust="spacing">Material and Finish:</text>
<text x="327.25" y="700" font-size="12" fill="#625d66" textLength="68.85" lengthAdjust="spacing">4420/4420R:</text>
<text x="458.75" y="700" font-size="12" fill="#5a555e" textLength="85.60" lengthAdjust="spacing">Durotong, POM</text>
<text x="327.25" y="714.5" font-size="12" fill="#625d66" textLength="68.85" lengthAdjust="spacing">4830/4830R:</text>
<text x="458.75" y="714.5" font-size="12" fill="#5a555e" textLength="123.60" lengthAdjust="spacing">Durotong, POM, epoxy</text>
<text x="458.75" y="728.75" font-size="12" fill="#5a555e" textLength="83.60" lengthAdjust="spacing">coated titanium</text>
<text x="327.25" y="742.5" font-size="12" fill="#625d66" textLength="131.10" lengthAdjust="spacing">4520/4930/4520R/4930R:</text>
<text x="458.75" y="742.5" font-size="12" fill="#5a555e" textLength="130.10" lengthAdjust="spacing">Durotong, epoxy coated</text>
<text x="458.75" y="757.5" font-size="12" fill="#5a555e" textLength="43.60" lengthAdjust="spacing">titanium</text>
<text x="319" y="772" font-size="11" fill="#625d66" font-style="italic" textLength="191" lengthAdjust="spacing"><tspan font-size="7" dy="-4">1)</tspan><tspan dy="4"> Standard deviation based on 300 pings</tspan></text>
</svg>
</body></html>
